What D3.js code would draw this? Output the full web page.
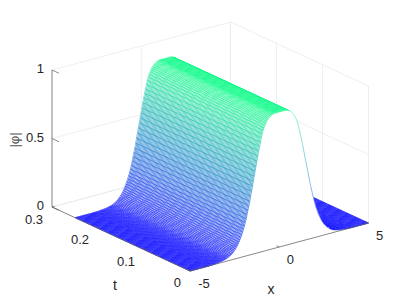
<!DOCTYPE html>
<html>
<head>
<meta charset="utf-8">
<script src="https://cdn.jsdelivr.net/npm/d3@7"></script>
<style>
html, body { margin: 0; padding: 0; background: #fff; }
svg { display: block; font-family: "Liberation Sans", Arial, sans-serif; }
</style>
</head>
<body>
<div id="chart"></div>
<script>
// grid of the surface, one value per mesh line
const xValues = [
  -5, -4.95, -4.9, -4.85, -4.8, -4.75, -4.7, -4.65, -4.6, -4.55, -4.5, -4.45, -4.4, -4.35, -4.3, -4.25, -4.2, -4.15, -4.1, -4.05,
  -4, -3.95, -3.9, -3.85, -3.8, -3.75, -3.7, -3.65, -3.6, -3.55, -3.5, -3.45, -3.4, -3.35, -3.3, -3.25, -3.2, -3.15, -3.1, -3.05,
  -3, -2.95, -2.9, -2.85, -2.8, -2.75, -2.7, -2.65, -2.6, -2.55, -2.5, -2.45, -2.4, -2.35, -2.3, -2.25, -2.2, -2.15, -2.1, -2.05,
  -2, -1.95, -1.9, -1.85, -1.8, -1.75, -1.7, -1.65, -1.6, -1.55, -1.5, -1.45, -1.4, -1.35, -1.3, -1.25, -1.2, -1.15, -1.1, -1.05,
  -1, -0.95, -0.9, -0.85, -0.8, -0.75, -0.7, -0.65, -0.6, -0.55, -0.5, -0.45, -0.4, -0.35, -0.3, -0.25, -0.2, -0.15, -0.1, -0.05,
  0, 0.05, 0.1, 0.15, 0.2, 0.25, 0.3, 0.35, 0.4, 0.45, 0.5, 0.55, 0.6, 0.65, 0.7, 0.75, 0.8, 0.85, 0.9, 0.95,
  1, 1.05, 1.1, 1.15, 1.2, 1.25, 1.3, 1.35, 1.4, 1.45, 1.5, 1.55, 1.6, 1.65, 1.7, 1.75, 1.8, 1.85, 1.9, 1.95,
  2, 2.05, 2.1, 2.15, 2.2, 2.25, 2.3, 2.35, 2.4, 2.45, 2.5, 2.55, 2.6, 2.65, 2.7, 2.75, 2.8, 2.85, 2.9, 2.95,
  3, 3.05, 3.1, 3.15, 3.2, 3.25, 3.3, 3.35, 3.4, 3.45, 3.5, 3.55, 3.6, 3.65, 3.7, 3.75, 3.8, 3.85, 3.9, 3.95,
  4, 4.05, 4.1, 4.15, 4.2, 4.25, 4.3, 4.35, 4.4, 4.45, 4.5, 4.55, 4.6, 4.65, 4.7, 4.75, 4.8, 4.85, 4.9, 4.95, 5
];
const tValues = [
  0, 0.0025, 0.005, 0.0075, 0.01, 0.0125, 0.015, 0.0175, 0.02, 0.0225, 0.025, 0.0275, 0.03, 0.0325, 0.035, 0.0375, 0.04, 0.0425, 0.045, 0.0475,
  0.05, 0.0525, 0.055, 0.0575, 0.06, 0.0625, 0.065, 0.0675, 0.07, 0.0725, 0.075, 0.0775, 0.08, 0.0825, 0.085, 0.0875, 0.09, 0.0925, 0.095, 0.0975,
  0.1, 0.1025, 0.105, 0.1075, 0.11, 0.1125, 0.115, 0.1175, 0.12, 0.1225, 0.125, 0.1275, 0.13, 0.1325, 0.135, 0.1375, 0.14, 0.1425, 0.145, 0.1475,
  0.15, 0.1525, 0.155, 0.1575, 0.16, 0.1625, 0.165, 0.1675, 0.17, 0.1725, 0.175, 0.1775, 0.18, 0.1825, 0.185, 0.1875, 0.19, 0.1925, 0.195, 0.1975,
  0.2, 0.2025, 0.205, 0.2075, 0.21, 0.2125, 0.215, 0.2175, 0.22, 0.2225, 0.225, 0.2275, 0.23, 0.2325, 0.235, 0.2375, 0.24, 0.2425, 0.245, 0.2475, 0.25
];
const phiValues = [
  0, 0, 0, 0, 0, 0, 0, 0, 0, 0, 0, 0, 0, 0, 0, 0, 0, 0, 0, 0, 0, 0,
  0.0005, 0.001, 0.001, 0.001, 0.0015, 0.002, 0.0025, 0.003, 0.0035, 0.004, 0.005,
  0.006, 0.007, 0.008, 0.009, 0.011, 0.012, 0.014, 0.016, 0.018, 0.021,
  0.024, 0.028, 0.032, 0.037, 0.042, 0.048, 0.055, 0.062, 0.07, 0.08,
  0.09, 0.102, 0.115, 0.13, 0.145, 0.162, 0.18, 0.2, 0.22, 0.245,
  0.27, 0.3, 0.33, 0.36, 0.39, 0.425, 0.46, 0.495, 0.53, 0.565,
  0.6, 0.635, 0.67, 0.706, 0.74, 0.771, 0.8, 0.832, 0.86, 0.882,
  0.9, 0.916, 0.93, 0.941, 0.95, 0.958, 0.965, 0.971, 0.975, 0.979,
  0.982, 0.984, 0.985, 0.985, 0.985, 0.985, 0.985, 0.985, 0.985,
  0.985, 0.985, 0.985, 0.985, 0.985, 0.985, 0.984, 0.982, 0.979, 0.975,
  0.971, 0.965, 0.958, 0.95, 0.941, 0.93, 0.916, 0.9, 0.882, 0.86,
  0.832, 0.8, 0.771, 0.74, 0.706, 0.67, 0.635, 0.6, 0.565, 0.53,
  0.495, 0.46, 0.425, 0.39, 0.36, 0.33, 0.3, 0.27, 0.245, 0.22,
  0.2, 0.18, 0.162, 0.145, 0.13, 0.115, 0.102, 0.09, 0.08, 0.07,
  0.062, 0.055, 0.048, 0.042, 0.037, 0.032, 0.028, 0.024, 0.021, 0.018,
  0.016, 0.014, 0.012, 0.011, 0.009, 0.008, 0.007, 0.006, 0.005, 0.004,
  0.0035, 0.003, 0.0025, 0.002, 0.0015, 0.001, 0.001, 0.001, 0.0005,
  0, 0, 0, 0, 0, 0, 0, 0, 0, 0, 0, 0, 0, 0, 0, 0, 0, 0, 0, 0
];
const xTicks = [-5, 0, 5];
const tTicks = [0, 0.1, 0.2, 0.3];
const zTicks = [0, 0.5, 1];

const width = 407, height = 305;
const svg = d3.select('#chart').append('svg')
  .attr('width', width)
  .attr('height', height);

// each axis gives a screen offset, added up for the 3d projection
const xToSx = d3.scaleLinear().domain([-5, 5]).range([190, 368.5]);
const xToSy = d3.scaleLinear().domain([-5, 5]).range([271, 223]);
const tToSx = d3.scaleLinear().domain([0, 0.3]).range([0, -138]);
const tToSy = d3.scaleLinear().domain([0, 0.3]).range([0, -64]);
const zToSy = d3.scaleLinear().domain([0, 1]).range([0, -137]);
const winter = d3.scaleLinear().domain([0, 1]).range(['#0000ff', '#00ff80']);

const project = (x, t, z) => [xToSx(x) + tToSx(t), xToSy(x) + tToSy(t) + zToSy(z)];
const line = d3.line();

// back walls and floor
const gridColor = '#e8e8e8';
const grid = svg.append('g').attr('fill', 'none').attr('stroke', gridColor).attr('stroke-width', 0.7);
const addGrid = (a, b) => grid.append('path').attr('d', line([project(...a), project(...b)]));
zTicks.forEach(z => {
  addGrid([-5, 0.3, z], [5, 0.3, z]);
  addGrid([5, 0, z], [5, 0.3, z]);
});
xTicks.forEach(x => {
  addGrid([x, 0.3, 0], [x, 0.3, 1]);
  addGrid([x, 0, 0], [x, 0.3, 0]);
});
tTicks.forEach(t => {
  addGrid([5, t, 0], [5, t, 1]);
  addGrid([-5, t, 0], [5, t, 0]);
});

// surface, painted from the far corner to the near one
const surface = svg.append('g').attr('stroke-width', 0.45).attr('stroke-linejoin', 'bevel');
for (let j = tValues.length - 2; j >= 0; j--) {
  for (let i = xValues.length - 2; i >= 0; i--) {
    const corners = [
      project(xValues[i], tValues[j], phiValues[i]),
      project(xValues[i + 1], tValues[j], phiValues[i + 1]),
      project(xValues[i + 1], tValues[j + 1], phiValues[i + 1]),
      project(xValues[i], tValues[j + 1], phiValues[i])
    ];
    // the underside of the ridge stays white
    const area = d3.polygonArea(corners);
    surface.append('path')
      .attr('d', line(corners) + 'Z')
      .attr('fill', '#fff')
      .attr('stroke', area > 0.1 ? winter((phiValues[i] + phiValues[i + 1]) / 2) : '#fff');
  }
}

// the open mouth at t = 0 only shows the underside, so it is white
const frontEdge = xValues.map((x, i) => project(x, 0, phiValues[i]));
surface.append('path')
  .attr('d', line(frontEdge) + 'Z')
  .attr('fill', '#fff')
  .attr('stroke', 'none');
xValues.slice(1).forEach((x, i) => {
  surface.append('path')
    .attr('d', line([frontEdge[i], frontEdge[i + 1]]))
    .attr('fill', 'none')
    .attr('stroke', winter((phiValues[i] + phiValues[i + 1]) / 2));
});

// axis lines and ticks
const axisColor = '#5a5a5a';
const axes = svg.append('g').attr('fill', 'none').attr('stroke', axisColor).attr('stroke-width', 0.7);
const addAxis = (a, b) => axes.append('path').attr('d', line([project(...a), project(...b)]));
addAxis([-5, 0.3, 0], [-5, 0.3, 1]);
addAxis([-5, 0, 0], [-5, 0.3, 0]);
addAxis([-5, 0, 0], [5, 0, 0]);
zTicks.forEach(z => addAxis([-5, 0.3, z], [-5, 0.285, z]));
tTicks.forEach(t => addAxis([-5, t, 0], [-4.85, t, 0]));
xTicks.forEach(x => addAxis([x, 0, 0], [x, 0.006, 0]));

// tick labels and axis titles
const labels = svg.append('g').attr('fill', '#262626').attr('font-size', 13);
const addLabel = (text, x, y, anchor) => labels.append('text')
  .attr('x', x).attr('y', y).attr('text-anchor', anchor).text(text);
zTicks.forEach(z => {
  const p = project(-5, 0.3, z);
  addLabel(z, p[0] - 8, p[1] + 3, 'end');
});
tTicks.forEach(t => {
  const p = project(-5, t, 0);
  addLabel(t, p[0] - 9, p[1] + (t === 0.3 ? 17 : 16), 'end');
});
xTicks.forEach(x => {
  const p = project(x, 0, 0);
  addLabel(x, p[0] + (x < 0 ? 14 : 11), p[1] + 16.5, 'middle');
});
addLabel('t', 115, 290, 'middle').attr('font-size', 14);
addLabel('x', 271, 294, 'middle').attr('font-size', 14);
labels.append('text')
  .attr('transform', 'translate(19,140) rotate(-90)')
  .attr('text-anchor', 'middle')
  .attr('font-size', 13)
  .attr('fill', '#555')
  .text('|φ|');
</script>
</body>
</html>
